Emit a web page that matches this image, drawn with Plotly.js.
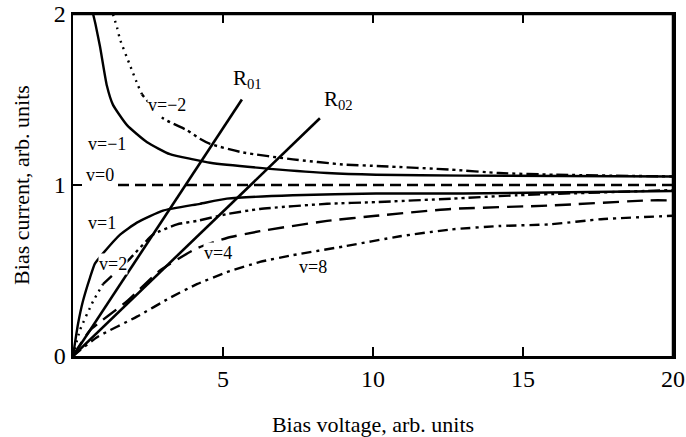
<!DOCTYPE html>
<html><head><meta charset="utf-8">
<script src="https://cdn.plot.ly/plotly-3.0.1.min.js"></script>
<style>html,body{margin:0;padding:0;background:#fff}</style>
</head><body><div id="chart" style="width:686px;height:437px"></div>
<script>
// curve data
const vm2_x = [1.33,1.47,1.57,1.9,2.17,2.3,3.0,3.8,4.23,4.57,5.67,7.33,9.0,10.3,12.6,14.2,16.1,20];
const vm2_y = [2.0,1.92,1.85,1.70,1.58,1.53,1.39,1.32,1.27,1.24,1.19,1.15,1.12,1.11,1.09,1.07,1.06,1.05];
const vm1_x = [0.67,0.75,0.9,1.13,1.33,1.8,2.47,3.23,4.0,4.57,6.23,8.47,10.1,13,20];
const vm1_y = [2.0,1.94,1.81,1.58,1.47,1.35,1.25,1.18,1.15,1.13,1.10,1.07,1.06,1.055,1.05];
const v0_x = [1.5,20];
const v0_y = [1.0,1.0];
const v1_x = [0,0.17,0.33,0.57,0.73,1.0,1.57,2.13,3.0,4.23,5.13,7.33,10.1,13,20];
const v1_y = [0,0.19,0.32,0.46,0.54,0.60,0.71,0.78,0.85,0.89,0.92,0.94,0.95,0.95,0.965];
const v2_x = [0,0.23,0.67,1.0,1.9,2.67,3.47,4.13,5.13,6.23,8.47,10.1,12.6,14.8,20];
const v2_y = [0,0.15,0.32,0.42,0.57,0.71,0.77,0.79,0.83,0.86,0.89,0.90,0.92,0.94,0.97];
const v4_x = [0,0.57,1.8,2.9,4.13,5.13,6.23,8.47,10.1,12.6,15.9,19.2,20];
const v4_y = [0,0.15,0.32,0.50,0.63,0.69,0.73,0.79,0.82,0.86,0.88,0.91,0.91];
const v8_x = [0,0.8,2.13,3.23,4.13,5.13,6.23,7.33,9.0,10.9,12.6,14.2,15.9,17.6,20];
const v8_y = [0,0.11,0.23,0.34,0.42,0.49,0.55,0.59,0.64,0.70,0.74,0.76,0.77,0.80,0.82];
const r01_x = [0,5.63];
const r01_y = [0,1.50];
const r02_x = [0,8.23];
const r02_y = [0,1.39];
const xTicks = [5,10,15,20];
const yTicks = [0,1,2];
const curveLabels = [
  {t:'v=−2', x:3.13, y:1.47},
  {t:'v=−1', x:1.13, y:1.24},
  {t:'v=0', x:0.9, y:1.06},
  {t:'v=1', x:0.97, y:0.78},
  {t:'v=2', x:1.33, y:0.54},
  {t:'v=4', x:4.83, y:0.60},
  {t:'v=8', x:8.0, y:0.52}
];
const lineLabels = [
  {t:'R<sub>01</sub>', x:5.8, y:1.62},
  {t:'R<sub>02</sub>', x:8.85, y:1.50}
];

const blk = '#000';
const serif = 'Liberation Serif, Times New Roman, serif';
function tr(x,y,dash,w){return {x:x,y:y,mode:'lines',type:'scatter',line:{color:blk,width:w||2.4,dash:dash,shape:'spline',smoothing:0.5},hoverinfo:'skip'};}
const nDot2 = 6; // v=-2: dotted part near the top
const nDotP = 4; // v=2: dotted part near the origin
const data = [
  tr(vm2_x.slice(0,nDot2),vm2_y.slice(0,nDot2),'2px,5px'),
  tr(vm2_x.slice(nDot2-1),vm2_y.slice(nDot2-1),'3px,4px,3px,4px,12px,4px'),
  tr(vm1_x,vm1_y,'solid'),
  tr(v0_x,v0_y,'11px,6px'),
  tr(v1_x,v1_y,'solid'),
  tr(v2_x.slice(0,nDotP),v2_y.slice(0,nDotP),'2px,5px'),
  tr(v2_x.slice(nDotP-1),v2_y.slice(nDotP-1),'12px,4px,3px,4px,3px,4px'),
  tr(v4_x,v4_y,'16px,8px'),
  tr(v8_x,v8_y,'10px,5px,3px,5px'),
  tr(r01_x,r01_y,'solid',2.6),
  tr(r02_x,r02_y,'solid',2.6)
];
const ann = curveLabels.map(l=>({x:l.x,y:l.y,text:l.t,showarrow:false,
    font:{family:serif,size:18,color:blk}, bgcolor:'#fff', borderpad:0}))
  .concat(lineLabels.map(l=>({x:l.x,y:l.y,text:l.t,showarrow:false,
    font:{family:serif,size:21,color:blk}})));
const layout = {
  width:686, height:437,
  margin:{l:73,r:13,t:14,b:81},
  showlegend:false,
  paper_bgcolor:'#fff', plot_bgcolor:'#fff',
  font:{family:serif,color:blk},
  xaxis:{range:[0,20], tickvals:xTicks, ticks:'inside', ticklen:9, tickwidth:2,
    tickcolor:blk, showline:true, linecolor:blk, linewidth:2.5, mirror:'ticks', showgrid:false, zeroline:false,
    tickfont:{family:serif,size:24,color:blk},
    title:{text:'Bias voltage, arb. units', font:{family:serif,size:22,color:blk}, standoff:28}},
  yaxis:{range:[0,2], tickvals:yTicks, ticks:'inside', ticklen:9, tickwidth:2,
    tickcolor:blk, showline:true, linecolor:blk, linewidth:2.5, mirror:'ticks', showgrid:false, zeroline:false,
    tickfont:{family:serif,size:24,color:blk},
    title:{text:'Bias current, arb. units', font:{family:serif,size:22,color:blk}, standoff:18}},
  shapes:[
    {type:'line',xref:'paper',yref:'paper',x0:0,x1:1,y0:1,y1:1,layer:'above',line:{color:blk,width:2.5}},
    {type:'line',xref:'paper',yref:'paper',x0:1,x1:1,y0:0,y1:1,layer:'above',line:{color:blk,width:2.5}}
  ],
  annotations: ann
};
Plotly.newPlot('chart', data, layout, {staticPlot:true, displayModeBar:false});
</script>
</body></html>
